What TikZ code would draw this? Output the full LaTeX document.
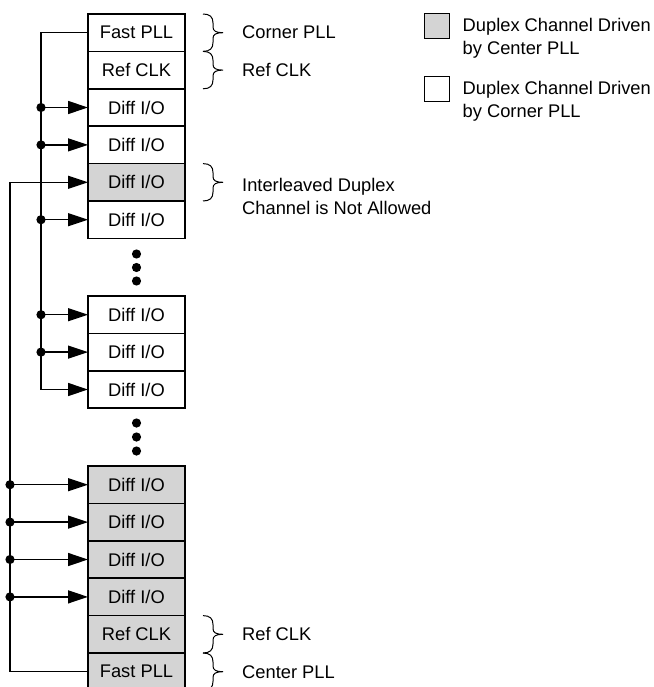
\documentclass[tikz,border=0pt]{standalone}
\usepackage{fontspec}
\setmainfont{Liberation Sans}
\usetikzlibrary{positioning,arrows.meta}
\definecolor{cellgray}{RGB}{212,212,212}

\begin{document}
\begin{tikzpicture}[x=1pt,y=-1pt,
  txt/.style={font=\fontsize{18.3}{23}\selectfont},
  cell/.style={txt,draw,line width=1.5pt,minimum width=97pt,minimum height=37.4pt,
    inner sep=0pt,outer sep=0pt},
  shaded/.style={cell,fill=cellgray},
  lbl/.style={txt,anchor=west,inner sep=0pt,align=left},
  wire/.style={line width=1.3pt},
  feed/.style={wire,-{Triangle[length=20pt,width=13pt]}},
  curly/.pic={\draw[line width=1pt] (0,0) .. controls (7,0) and (10,3) .. (10,9) -- (10,13)
      .. controls (10,17) and (13,18.7) .. (20,18.7)
      .. controls (13,18.7) and (10,20.4) .. (10,24.4) -- (10,28.4)
      .. controls (10,34.4) and (7,37.4) .. (0,37.4);}]
\useasboundingbox (0,0) rectangle (653,687);

  % corner side of the stack
  \node[cell] (fastT) at (136.5,32.7) {Fast PLL};
  \node[cell, below=0pt of fastT] (refT) {Ref CLK};
  \node[cell, below=0pt of refT] (io1) {Diff I/O};
  \node[cell, below=0pt of io1] (io2) {Diff I/O};
  \node[shaded, below=0pt of io2] (io5) {Diff I/O};
  \node[cell, below=0pt of io5] (io6) {Diff I/O};
  \foreach \y in {254,267.5,281} \fill (136.5,\y) circle (4.6pt);

  \node[cell] (io7) at (136.5,314.7) {Diff I/O};
  \node[cell, below=0pt of io7] (io8) {Diff I/O};
  \node[cell, below=0pt of io8] (io9) {Diff I/O};
  \foreach \y in {423,437,451} \fill (136.5,\y) circle (4.6pt);

  % center side of the stack
  \node[shaded] (io10) at (136.5,484.7) {Diff I/O};
  \node[shaded, below=0pt of io10] (io11) {Diff I/O};
  \node[shaded, below=0pt of io11] (io12) {Diff I/O};
  \node[shaded, below=0pt of io12] (io13) {Diff I/O};
  \node[shaded, below=0pt of io13] (refB) {Ref CLK};
  \node[shaded, below=0pt of refB] (fastB) {Fast PLL};

  % clock buses
  \coordinate (innerbus) at ([xshift=-47pt]fastT.west);
  \coordinate (outerbus) at ([xshift=-78pt]fastB.west);
  \draw[feed] (fastT.west) -- (innerbus) |- (io9.west);
  \foreach \n in {io1,io2,io6,io7,io8} {
    \draw[feed] (innerbus |- \n.west) -- (\n.west);
    \fill (innerbus |- \n.west) circle (4.6pt);
  }
  \draw[feed] (fastB.west) -- (outerbus) |- (io5.west);
  \foreach \n in {io10,io11,io12,io13} {
    \draw[feed] (outerbus |- \n.west) -- (\n.west);
    \fill (outerbus |- \n.west) circle (4.6pt);
  }

  % braces and their notes
  \pic at ([xshift=18pt]fastT.north east) {curly};
  \pic at ([xshift=18pt]refT.north east) {curly};
  \pic at ([xshift=18pt]io5.north east) {curly};
  \pic at ([xshift=18pt]refB.north east) {curly};
  \pic at ([xshift=18pt]fastB.north east) {curly};
  \node[lbl] (cornerlbl) at ([xshift=57pt]fastT.east) {Corner PLL};
  \node[lbl] (reftlbl) at ([xshift=57pt]refT.east) {Ref CLK};
  \node[lbl] (interlbl) at ([xshift=57pt,yshift=-14pt]io5.east) {Interleaved Duplex\\Channel is Not Allowed};
  \node[lbl] (refblbl) at ([xshift=57pt]refB.east) {Ref CLK};
  \node[lbl] (centerlbl) at ([xshift=57pt]fastB.east) {Center PLL};

  % key
  \node[draw,line width=1pt,fill=cellgray,minimum size=25pt,inner sep=0pt] (keyA) at (436.5,26.5) {};
  \node[draw,line width=1pt,minimum size=25pt,inner sep=0pt] (keyB) at (436.5,89.5) {};
  \node[lbl] (keyAlbl) at ([xshift=13pt,yshift=-11.5pt]keyA.east) {Duplex Channel Driven\\by Center PLL};
  \node[lbl] (keyBlbl) at ([xshift=13pt,yshift=-11.5pt]keyB.east) {Duplex Channel Driven\\by Corner PLL};
\end{tikzpicture}
\end{document}
